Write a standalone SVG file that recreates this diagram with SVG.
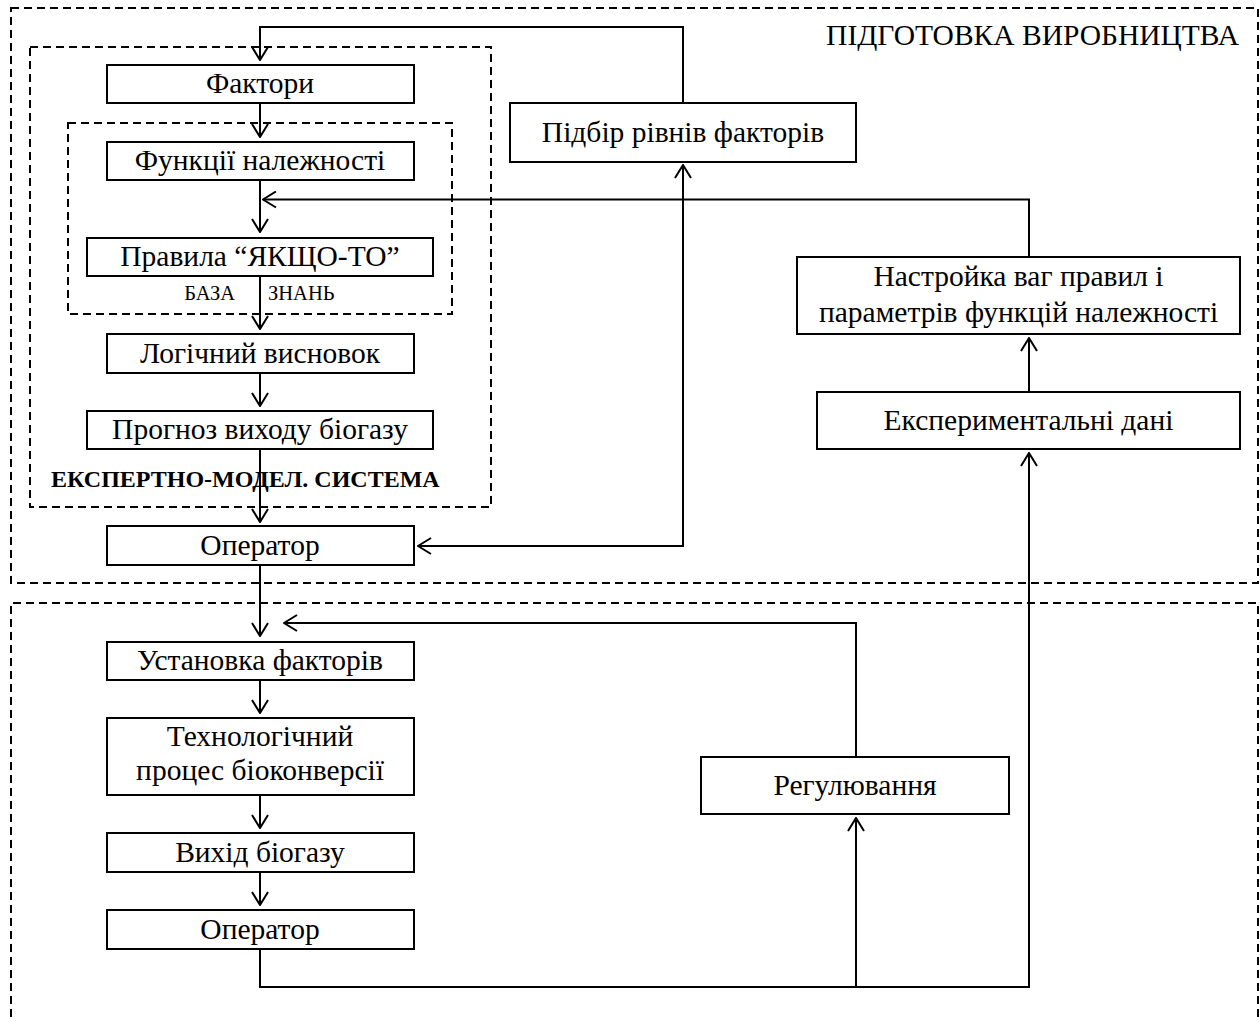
<svg xmlns="http://www.w3.org/2000/svg" width="1260" height="1022" viewBox="0 0 1260 1022">
<style>
.box{fill:#fff;stroke:#000;stroke-width:2}
.dash{fill:none;stroke:#000;stroke-width:2;stroke-dasharray:8 5}
.t{font-family:"Liberation Serif","Times New Roman",serif;font-size:29.5px;fill:#000;text-anchor:middle}
.s{font-family:"Liberation Serif","Times New Roman",serif;font-size:20.5px;fill:#000}
.b{font-family:"Liberation Serif","Times New Roman",serif;font-size:24px;font-weight:bold;fill:#000}
.c{fill:none;stroke:#000;stroke-width:2}
.a{marker-end:url(#arr)}
</style>
<defs>
<marker id="arr" viewBox="0 0 15 18" refX="14" refY="9" markerWidth="15" markerHeight="18" markerUnits="userSpaceOnUse" orient="auto-start-reverse">
<path d="M1,1 L14,9 L1,17" fill="none" stroke="#000" stroke-width="2"/>
</marker>
</defs>
<rect width="1260" height="1022" fill="#fff"/>
<g id="containers">
<rect class="dash" x="11" y="8" width="1247" height="575"/>
<path class="dash" d="M11,1030 V603 H1258 V1030"/>
<rect class="dash" x="30" y="47" width="461" height="460"/>
<rect class="dash" x="68" y="123" width="384" height="191"/>
<text x="1239" y="45" class="t" style="text-anchor:end">ПІДГОТОВКА ВИРОБНИЦТВА</text>
<text x="235" y="300" class="s" style="text-anchor:end">БАЗА</text>
<text x="268" y="300" class="s">ЗНАНЬ</text>
</g>
<g id="connectors">
<path class="c a" d="M260,103 V137"/>
<path class="c a" d="M260,180 V232"/>
<path class="c a" d="M260,276 V329"/>
<path class="c a" d="M260,373 V406"/>
<path class="c a" d="M260,449 V522"/>
<path class="c a" d="M260,565 V636"/>
<path class="c a" d="M260,680 V713"/>
<path class="c a" d="M260,795 V828"/>
<path class="c a" d="M260,872 V905"/>
<path class="c a" d="M260,949 V987 H1029 V453"/>
<path class="c a" d="M856,987 V818"/>
<path class="c a" d="M1029,392 V338"/>
<path class="c a" d="M1029,257 V199.5 H263"/>
<path class="c a" d="M856,757 V623 H284"/>
<path class="c a" d="M683,103 V27 H260 V60"/>
<path class="c a" d="M418,546 H683 V165" style="marker-start:url(#arr)"/>
</g>
<g id="expert-label"><text x="51" y="487" class="b">ЕКСПЕРТНО-МОДЕЛ. СИСТЕМА</text></g>
<g id="n-faktory"><rect class="box" x="107" y="65" width="307" height="38"/><text x="260" y="93" class="t">Фактори</text></g>
<g id="n-funktsii"><rect class="box" x="107" y="142" width="307" height="38"/><text x="260" y="170" class="t">Функції належності</text></g>
<g id="n-pravyla"><rect class="box" x="87" y="238" width="346" height="38"/><text x="260" y="266" class="t">Правила “ЯКЩО-ТО”</text></g>
<g id="n-logichnyi"><rect class="box" x="107" y="334" width="307" height="39"/><text x="260" y="363" class="t">Логічний висновок</text></g>
<g id="n-prognoz"><rect class="box" x="87" y="411" width="346" height="38"/><text x="260" y="439" class="t">Прогноз виходу біогазу</text></g>
<g id="n-operator1"><rect class="box" x="107" y="526" width="307" height="39"/><text x="260" y="555" class="t">Оператор</text></g>
<g id="n-ustanovka"><rect class="box" x="107" y="642" width="307" height="38"/><text x="260" y="670" class="t">Установка факторів</text></g>
<g id="n-tekhnol"><rect class="box" x="107" y="718" width="307" height="77"/><text x="260" y="746" class="t">Технологічний</text><text x="260" y="780" class="t">процес біоконверсії</text></g>
<g id="n-vykhid"><rect class="box" x="107" y="833" width="307" height="39"/><text x="260" y="862" class="t">Вихід біогазу</text></g>
<g id="n-operator2"><rect class="box" x="107" y="910" width="307" height="39"/><text x="260" y="939" class="t">Оператор</text></g>
<g id="n-pidbir"><rect class="box" x="510" y="103" width="346" height="59"/><text x="683" y="142" class="t">Підбір рівнів факторів</text></g>
<g id="n-nastroika"><rect class="box" x="797" y="257" width="443" height="77"/><text x="1018.5" y="286" class="t">Настройка ваг правил і</text><text x="1018.5" y="322" class="t">параметрів функцій належності</text></g>
<g id="n-eksper"><rect class="box" x="817" y="392" width="423" height="57"/><text x="1028.5" y="430" class="t">Експериментальні дані</text></g>
<g id="n-regul"><rect class="box" x="701" y="757" width="308" height="57"/><text x="855" y="795" class="t">Регулювання</text></g>
</svg>
